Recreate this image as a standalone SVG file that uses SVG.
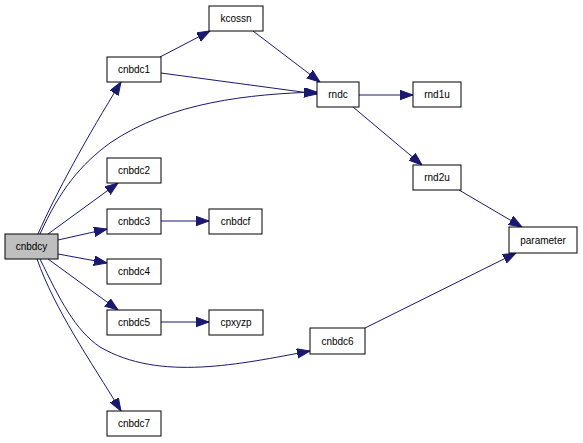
<svg xmlns="http://www.w3.org/2000/svg" width="583" height="443" viewBox="0 0 583 443">
<style>
.n rect{fill:#ffffff;stroke:#000000;stroke-width:1}
.n text{font-family:"Liberation Sans",Arial,sans-serif;font-size:10px;text-anchor:middle;fill:#000000}
#edges path{fill:none;stroke:#191970;stroke-width:1;marker-end:url(#ah)}
</style>
<defs>
<marker id="ah" markerUnits="userSpaceOnUse" markerWidth="15" markerHeight="11" refX="13" refY="4.75" orient="auto">
<path d="M0,0 L13,4.75 L0,9.5 z" fill="#191970" stroke="#191970" stroke-width="1"/>
</marker>
</defs>
<rect width="583" height="443" fill="#ffffff"/>
<g id="edges">
<path d="M38,234 C55,195 88,135 121,82"/>
<path d="M160,57 L210,31"/>
<path d="M161,73 L317,94"/>
<path d="M40,234 C60,190 80,165 110,143 C170,102 250,94 317,92"/>
<path d="M253,31 L320,82"/>
<path d="M359,95 L413,95"/>
<path d="M353,107 L422,165"/>
<path d="M459,190 L522,227"/>
<path d="M365,328 L516,253"/>
<path d="M48,234 L118,183"/>
<path d="M58,240 L107,229"/>
<path d="M161,221 L209,221"/>
<path d="M58,254 L107,263"/>
<path d="M48,259 L118,310"/>
<path d="M161,322 L209,322"/>
<path d="M40,259 C60,300 75,330 100,347 C160,382 240,364 310,351"/>
<path d="M37,259 C55,310 90,360 121,411"/>
</g>
<g id="cnbdcy" class="n"><rect x="5" y="234" width="53" height="25" style="fill:#bfbfbf"/><text x="31.5" y="250">cnbdcy</text></g>
<g id="cnbdc1" class="n"><rect x="107" y="57" width="54" height="25"/><text x="134" y="73">cnbdc1</text></g>
<g id="kcossn" class="n"><rect x="209" y="6" width="54" height="25"/><text x="236" y="22">kcossn</text></g>
<g id="cnbdc2" class="n"><rect x="107" y="158" width="54" height="25"/><text x="134" y="174">cnbdc2</text></g>
<g id="cnbdc3" class="n"><rect x="107" y="209" width="54" height="25"/><text x="134" y="225">cnbdc3</text></g>
<g id="cnbdcf" class="n"><rect x="209" y="209" width="53" height="25"/><text x="235.5" y="225">cnbdcf</text></g>
<g id="cnbdc4" class="n"><rect x="107" y="259" width="54" height="25"/><text x="134" y="275">cnbdc4</text></g>
<g id="cnbdc5" class="n"><rect x="107" y="310" width="54" height="25"/><text x="134" y="326">cnbdc5</text></g>
<g id="cpxyzp" class="n"><rect x="209" y="310" width="54" height="25"/><text x="236" y="326">cpxyzp</text></g>
<g id="cnbdc7" class="n"><rect x="107" y="411" width="54" height="25"/><text x="134" y="427">cnbdc7</text></g>
<g id="rndc" class="n"><rect x="317" y="82" width="42" height="25"/><text x="338" y="98">rndc</text></g>
<g id="rnd1u" class="n"><rect x="413" y="82" width="48" height="25"/><text x="437" y="98">rnd1u</text></g>
<g id="rnd2u" class="n"><rect x="413" y="165" width="48" height="25"/><text x="437" y="181">rnd2u</text></g>
<g id="parameter" class="n"><rect x="509" y="227" width="68" height="26"/><text x="543" y="244">parameter</text></g>
<g id="cnbdc6" class="n"><rect x="310" y="328" width="55" height="26"/><text x="337.5" y="345">cnbdc6</text></g>
</svg>
